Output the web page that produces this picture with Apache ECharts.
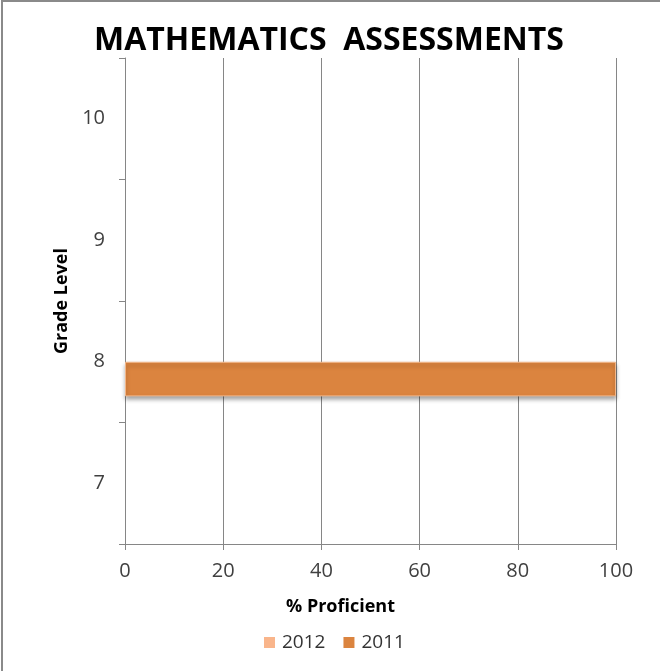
<!DOCTYPE html>
<html>
<head>
<meta charset="utf-8">
<script src="https://cdn.jsdelivr.net/npm/echarts@6/dist/echarts.min.js"></script>
<style>
html,body{margin:0;padding:0;background:#fff;}
#chart{position:absolute;left:0;top:0;width:660px;height:671px;}
#frame{position:absolute;left:1px;top:0;width:670px;height:680px;border-top:2px solid #8a8a8a;border-left:2px solid #8a8a8a;pointer-events:none;}
</style>
</head>
<body>
<div id="chart"></div>
<div id="frame"></div>
<script>
const grades = ['7', '8', '9', '10'];
const values2012 = [null, null, null, null];
const values2011 = [null, 100, null, null];
const xTicks = [0, 20, 40, 60, 80, 100];
const seriesNames = ['2012', '2011'];

const chart = echarts.init(document.getElementById('chart'));
const font = 'Open Sans, Lato, sans-serif';
chart.setOption({
  animation: false,
  backgroundColor: '#fff',
  title: {
    text: 'MATHEMATICS  ASSESSMENTS',
    left: 324, top: 20, textAlign: 'center',
    textStyle: {fontFamily: font, fontWeight: 'bold', fontSize: 32, color: '#000'}
  },
  legend: {
    data: seriesNames,
    left: 264, top: 633,
    icon: 'rect', itemWidth: 11, itemHeight: 11, itemGap: 18,
    itemStyle: {borderWidth: 0, shadowBlur: 0, shadowOffsetY: 0},
    textStyle: {fontFamily: font, fontSize: 19, color: '#333', padding: [0, 0, 0, 2]},
    padding: [0, 0, 0, 0]
  },
  grid: {left: 125, right: 44, top: 58, bottom: 127, containLabel: false},
  xAxis: {
    type: 'value', min: xTicks[0], max: xTicks[xTicks.length - 1], interval: 20,
    name: '% Proficient', nameLocation: 'middle', nameGap: 54, nameMoveOverlap: false,
    nameTextStyle: {fontFamily: font, fontWeight: 'bold', fontSize: 18, color: '#000', padding: [0, 60, 0, 0]},
    axisLine: {show: true, lineStyle: {color: '#868686'}},
    axisTick: {show: true, length: 6, lineStyle: {color: '#868686'}},
    axisLabel: {fontFamily: font, fontSize: 20, color: '#404040', margin: 17},
    splitLine: {show: true, lineStyle: {color: '#868686'}}
  },
  yAxis: {
    type: 'category', data: grades,
    name: 'Grade Level', nameLocation: 'middle', nameGap: 54, nameRotate: 90, nameMoveOverlap: false,
    nameTextStyle: {fontFamily: font, fontWeight: 'bold', fontSize: 18, color: '#000'},
    axisLine: {show: true, lineStyle: {color: '#868686'}},
    axisTick: {show: true, length: 6, lineStyle: {color: '#868686'}},
    axisLabel: {fontFamily: font, fontSize: 20, color: '#404040', margin: 20},
    splitLine: {show: false}
  },
  series: [
    {name: seriesNames[0], type: 'bar', data: values2012, barGap: '0%', barCategoryGap: '43%',
     itemStyle: {color: '#F9B58B'}},
    {name: seriesNames[1], type: 'bar', data: values2011, barGap: '0%', barCategoryGap: '43%',
     itemStyle: {color: '#DB843F', borderColor: '#F2B78A', borderWidth: 1,
       shadowColor: 'rgba(0,0,0,0.35)', shadowBlur: 4, shadowOffsetY: 3}}
  ]
});
</script>
</body>
</html>
